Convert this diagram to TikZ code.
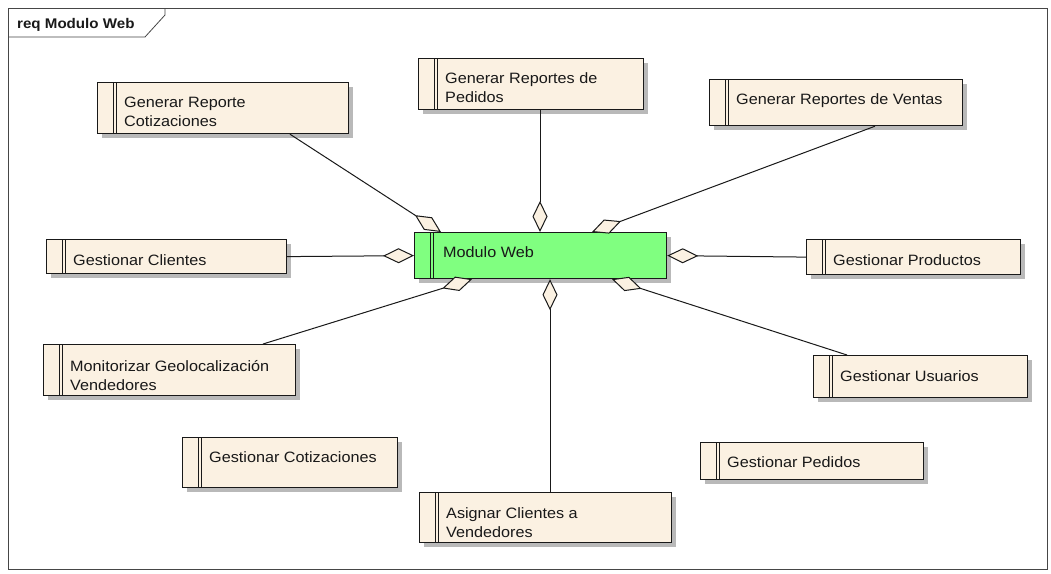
\documentclass[tikz,border=0pt]{standalone}
\usepackage{fontspec}
\setmainfont{Liberation Sans}[FakeStretch=1.08]
\usetikzlibrary{arrows.meta,shadows}

\definecolor{reqfill}{RGB}{251,241,226}
\definecolor{modfill}{RGB}{128,255,128}
\definecolor{shade}{RGB}{185,185,185}
\definecolor{ink}{RGB}{25,25,25}
\definecolor{framecol}{RGB}{70,70,70}

\newcommand{\lnstrut}{\vrule height 14pt depth 0pt width 0pt}

\tikzset{
  reqbox/.style={rectangle, draw=ink, line width=1.2pt, fill=reqfill,
    inner sep=0pt, anchor=north west,
    general shadow={fill=shade, shadow xshift=4pt, shadow yshift=-4pt},
    path picture={
      \draw[ink, line width=1pt]
        ([xshift=16pt]path picture bounding box.north west) --
        ([xshift=16pt]path picture bounding box.south west)
        ([xshift=19pt]path picture bounding box.north west) --
        ([xshift=19pt]path picture bounding box.south west);
    }},
  modbox/.style={reqbox, fill=modfill},
  lbl/.style={anchor=north west, inner sep=0pt, align=left,
    font=\fontsize{15}{19}\selectfont, text=ink},
  assoc/.style={draw=ink, line width=1pt,
    -{Diamond[length=31pt, width=15pt, fill=reqfill]}},
}

\begin{document}
\begin{tikzpicture}[x=1pt, y=-1pt]
  \useasboundingbox[fill=white] (0,0) rectangle (1051,573);

  % diagram frame with its name tab
  \draw[framecol, line width=0.8pt] (8,8) rectangle (1047,569);
  \draw[framecol, line width=0.8pt] (8,37) -- (145,37) -- (165,15) -- (165,8);
  \node[anchor=base west, inner sep=0pt, font=\fontsize{14}{16}\selectfont\bfseries, text=ink]
    (title) at (17,28) {req Modulo Web};

  % requirement boxes
  \node[reqbox, minimum width=251, minimum height=51] (cotrep) at (97,82) {};
  \node[reqbox, minimum width=225, minimum height=51] (pedrep) at (418,58) {};
  \node[reqbox, minimum width=253, minimum height=46] (venrep) at (709,79) {};
  \node[reqbox, minimum width=240, minimum height=34] (cli) at (46,239) {};
  \node[modbox, minimum width=252, minimum height=46] (modweb) at (414,232) {};
  \node[reqbox, minimum width=214, minimum height=35] (prod) at (806,239) {};
  \node[reqbox, minimum width=252, minimum height=51] (geo) at (43,344) {};
  \node[reqbox, minimum width=214, minimum height=42] (usu) at (813,355) {};
  \node[reqbox, minimum width=215, minimum height=50] (cot) at (182,437) {};
  \node[reqbox, minimum width=223, minimum height=37] (ped) at (700,442) {};
  \node[reqbox, minimum width=252, minimum height=50] (asig) at (419,492) {};

  % box texts
  \node[lbl] (cotrep-t) at ([shift={(27,11)}]cotrep.north west) {\lnstrut Generar Reporte\\\lnstrut Cotizaciones};
  \node[lbl] (pedrep-t) at ([shift={(27,11)}]pedrep.north west) {\lnstrut Generar Reportes de\\\lnstrut Pedidos};
  \node[lbl] (venrep-t) at ([shift={(27,11)}]venrep.north west) {\lnstrut Generar Reportes de Ventas};
  \node[lbl] (cli-t) at ([shift={(27,12)}]cli.north west) {\lnstrut Gestionar Clientes};
  \node[lbl] (modweb-t) at ([shift={(29,11)}]modweb.north west) {\lnstrut Modulo Web};
  \node[lbl] (prod-t) at ([shift={(27,12)}]prod.north west) {\lnstrut Gestionar Productos};
  \node[lbl] (geo-t) at ([shift={(27,13)}]geo.north west) {\lnstrut Monitorizar Geolocalización\\\lnstrut Vendedores};
  \node[lbl] (usu-t) at ([shift={(27,12)}]usu.north west) {\lnstrut Gestionar Usuarios};
  \node[lbl] (cot-t) at ([shift={(27,11)}]cot.north west) {\lnstrut Gestionar Cotizaciones};
  \node[lbl] (ped-t) at ([shift={(27,11)}]ped.north west) {\lnstrut Gestionar Pedidos};
  \node[lbl] (asig-t) at ([shift={(27,12)}]asig.north west) {\lnstrut Asignar Clientes a\\\lnstrut Vendedores};

  % aggregations into the web module
  \draw[assoc] ([xshift=193pt]cotrep.south west) -- ([xshift=27pt]modweb.north west);
  \draw[assoc] ([xshift=122pt]pedrep.south west) -- ([xshift=126pt]modweb.north west);
  \draw[assoc] ([xshift=166pt]venrep.south west) -- ([xshift=178pt]modweb.north west);
  \draw[assoc] (cli.east) -- (modweb.west);
  \draw[assoc] (prod.west) -- (modweb.east);
  \draw[assoc] ([xshift=220pt]geo.north west) -- ([xshift=58pt]modweb.south west);
  \draw[assoc] ([xshift=34pt]usu.north west) -- ([xshift=198pt]modweb.south west);
  \draw[assoc] ([xshift=131pt]asig.north west) -- ([xshift=136pt]modweb.south west);
\end{tikzpicture}
\end{document}
